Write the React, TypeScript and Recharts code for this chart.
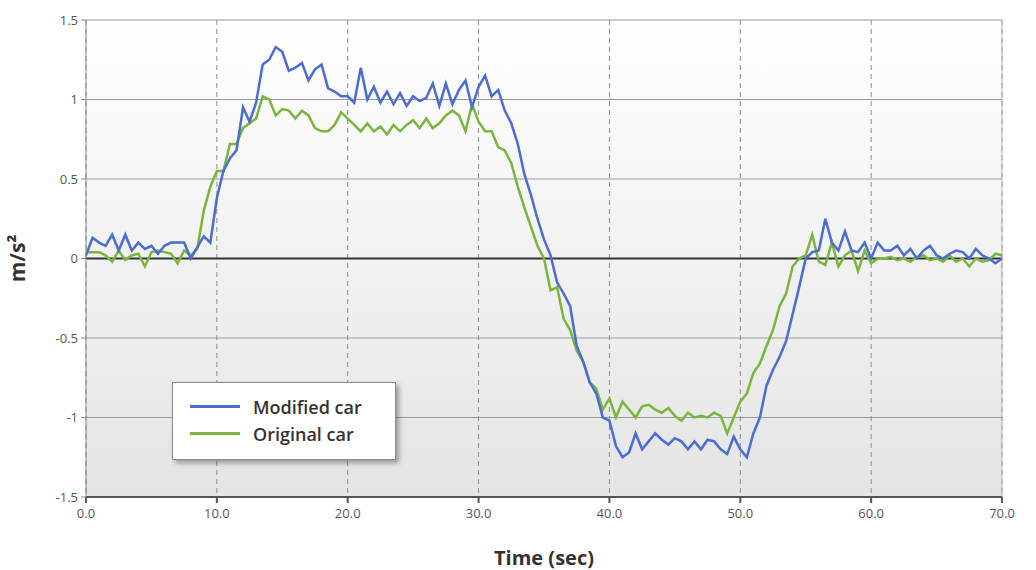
import React from 'react';
import {
  LineChart,
  Line,
  XAxis,
  YAxis,
  CartesianGrid,
  Legend,
  ReferenceLine
} from 'recharts';

// samples every 0.5 s, from 0 to 70 s
const timeStep = 0.5;

const modifiedCar = [
  0.02, 0.13, 0.1, 0.08, 0.15, 0.05, 0.15, 0.05, 0.1, 0.06,
  0.08, 0.03, 0.08, 0.1, 0.1, 0.1, 0.0, 0.07, 0.14, 0.1,
  0.38, 0.55, 0.63, 0.68, 0.95, 0.86, 0.98, 1.22, 1.25, 1.33,
  1.3, 1.18, 1.2, 1.23, 1.12, 1.19, 1.22, 1.07, 1.05, 1.02,
  1.02, 0.98, 1.2, 1.0, 1.08, 0.98, 1.05, 0.97, 1.04, 0.96,
  1.02, 0.99, 1.01, 1.1, 0.96, 1.1, 0.97, 1.06, 1.12, 0.95,
  1.08, 1.15, 1.02, 1.06, 0.93, 0.85, 0.72, 0.53, 0.4, 0.25,
  0.12, 0.02, -0.15, -0.22, -0.3, -0.55, -0.65, -0.78, -0.85, -1.0,
  -1.02, -1.18, -1.25, -1.22, -1.1, -1.2, -1.15, -1.1, -1.14, -1.17,
  -1.13, -1.15, -1.2, -1.15, -1.2, -1.14, -1.15, -1.2, -1.23, -1.12,
  -1.2, -1.25, -1.1, -1.0, -0.8, -0.7, -0.62, -0.52, -0.35, -0.18,
  0.0, 0.04, 0.05, 0.25, 0.1, 0.05, 0.17, 0.05, 0.04, 0.1,
  0.0, 0.1, 0.05, 0.05, 0.08, 0.02, 0.06, 0.0, 0.05, 0.08,
  0.02, 0.0, 0.03, 0.05, 0.04, 0.0, 0.06, 0.02, 0.0, -0.03,
  0.0
];

const originalCar = [
  0.04, 0.04, 0.04, 0.02, -0.02, 0.05, -0.01, 0.02, 0.03, -0.05,
  0.04, 0.05, 0.04, 0.03, -0.03, 0.05, 0.02, 0.06, 0.3, 0.45,
  0.55, 0.55, 0.72, 0.72, 0.82, 0.85, 0.88, 1.02, 1.0, 0.9,
  0.94, 0.93, 0.88, 0.93, 0.9, 0.82, 0.8, 0.8, 0.84, 0.92,
  0.88, 0.84, 0.8, 0.85, 0.8, 0.83, 0.78, 0.84, 0.8, 0.84,
  0.87, 0.82, 0.88, 0.82, 0.85, 0.9, 0.93, 0.9, 0.8, 0.97,
  0.86, 0.8, 0.8, 0.7, 0.68, 0.6, 0.45, 0.32, 0.2, 0.08,
  0.0, -0.2, -0.18, -0.38, -0.45, -0.58, -0.65, -0.78, -0.82, -0.95,
  -0.88, -1.0, -0.9, -0.95, -1.0, -0.93, -0.92, -0.95, -0.97, -0.94,
  -0.99, -1.02, -0.97, -1.0, -0.99, -1.0, -0.97, -0.99, -1.1, -1.0,
  -0.9, -0.85, -0.72, -0.66, -0.55, -0.45, -0.3, -0.22, -0.05, 0.0,
  0.02, 0.15, -0.02, -0.04, 0.1, -0.05, 0.02, 0.05, -0.08, 0.05,
  -0.03, 0.0, 0.0, 0.01, -0.01, 0.0, -0.02, 0.01, 0.02, -0.01,
  0.0, -0.02, 0.02, -0.02, 0.0, -0.05, 0.0, -0.02, -0.01, 0.03,
  0.02
];

const xTicks = [0, 10, 20, 30, 40, 50, 60, 70];
const yTicks = [-1.5, -1, -0.5, 0, 0.5, 1, 1.5];

const seriesInfo = [
  { key: 'modified', name: 'Modified car', color: '#4a6cd4' },
  { key: 'original', name: 'Original car', color: '#7ab63c' }
];

const chartData = modifiedCar.map((v, i) => ({
  t: i * timeStep,
  modified: v,
  original: originalCar[i]
}));

const font = '"Open Sans", sans-serif';

const LegendBox = () => (
  <div
    style={{
      width: 224,
      height: 78,
      boxSizing: 'border-box',
      border: '1px solid #8a8a8a',
      background: '#fff',
      boxShadow: '3px 3px 5px rgba(0,0,0,0.35)',
      padding: '10px 0 0 17px',
      fontFamily: font
    }}
  >
    {seriesInfo.map(s => (
      <div key={s.key} style={{ display: 'flex', alignItems: 'center', height: 27 }}>
        <div style={{ width: 50, height: 2.5, background: s.color }} />
        <span style={{ marginLeft: 13, fontSize: 18, fontWeight: 600, color: '#333' }}>{s.name}</span>
      </div>
    ))}
  </div>
);

const App: React.FC = () => {
  return (
    <div style={{ position: 'absolute', left: 0, top: 0, width: 1036, height: 570, background: '#fff' }}>
      <LineChart
        width={1036}
        height={570}
        data={chartData}
        margin={{ top: 20, right: 34, left: 0, bottom: 0 }}
      >
        <defs>
          <linearGradient id="plotBg" x1="0" y1="0" x2="0" y2="1">
            <stop offset="0%" stopColor="#ffffff" />
            <stop offset="100%" stopColor="#e4e4e4" />
          </linearGradient>
        </defs>
        <CartesianGrid vertical={false} stroke="#9a9a9a" fill="url(#plotBg)" fillOpacity={1} />
        <CartesianGrid horizontal={false} stroke="#8c8c8c" strokeDasharray="5 4" />
        <XAxis
          dataKey="t"
          type="number"
          domain={[0, 70]}
          ticks={xTicks}
          tickFormatter={(v: number) => v.toFixed(1)}
          height={73}
          stroke="#555"
          strokeWidth={2}
          tickSize={6}
          tickMargin={6}
          tick={{ fill: '#555', fontSize: 13, fontFamily: font }}
          label={{
            value: 'Time (sec)',
            position: 'insideBottom',
            offset: 5,
            style: { fill: '#333', fontSize: 20, fontWeight: 700, fontFamily: font }
          }}
        />
        <YAxis
          type="number"
          domain={[-1.5, 1.5]}
          ticks={yTicks}
          width={86}
          stroke="#888"
          tickSize={5}
          tickMargin={3}
          tick={{ fill: '#555', fontSize: 13, fontFamily: font }}
          label={{
            value: 'm/s²',
            angle: -90,
            position: 'insideLeft',
            offset: 18,
            style: { fill: '#333', fontSize: 21, fontWeight: 700, fontFamily: font, textAnchor: 'middle' }
          }}
        />
        <ReferenceLine y={0} stroke="#333" strokeWidth={2} />
        <ReferenceLine x={70} stroke="#b5b5b5" />
        <Legend layout="vertical" align="center" verticalAlign="middle" content={LegendBox}
          wrapperStyle={{ left: 172, top: 382, width: 224, height: 78 }} />
        <Line
          type="linear"
          dataKey="original"
          name="Original car"
          stroke="#7ab63c"
          strokeWidth={2.5}
          dot={false}
          isAnimationActive={false}
        />
        <Line
          type="linear"
          dataKey="modified"
          name="Modified car"
          stroke="#4a6cd4"
          strokeWidth={2.5}
          dot={false}
          isAnimationActive={false}
        />
      </LineChart>
    </div>
  );
};

export default App;
